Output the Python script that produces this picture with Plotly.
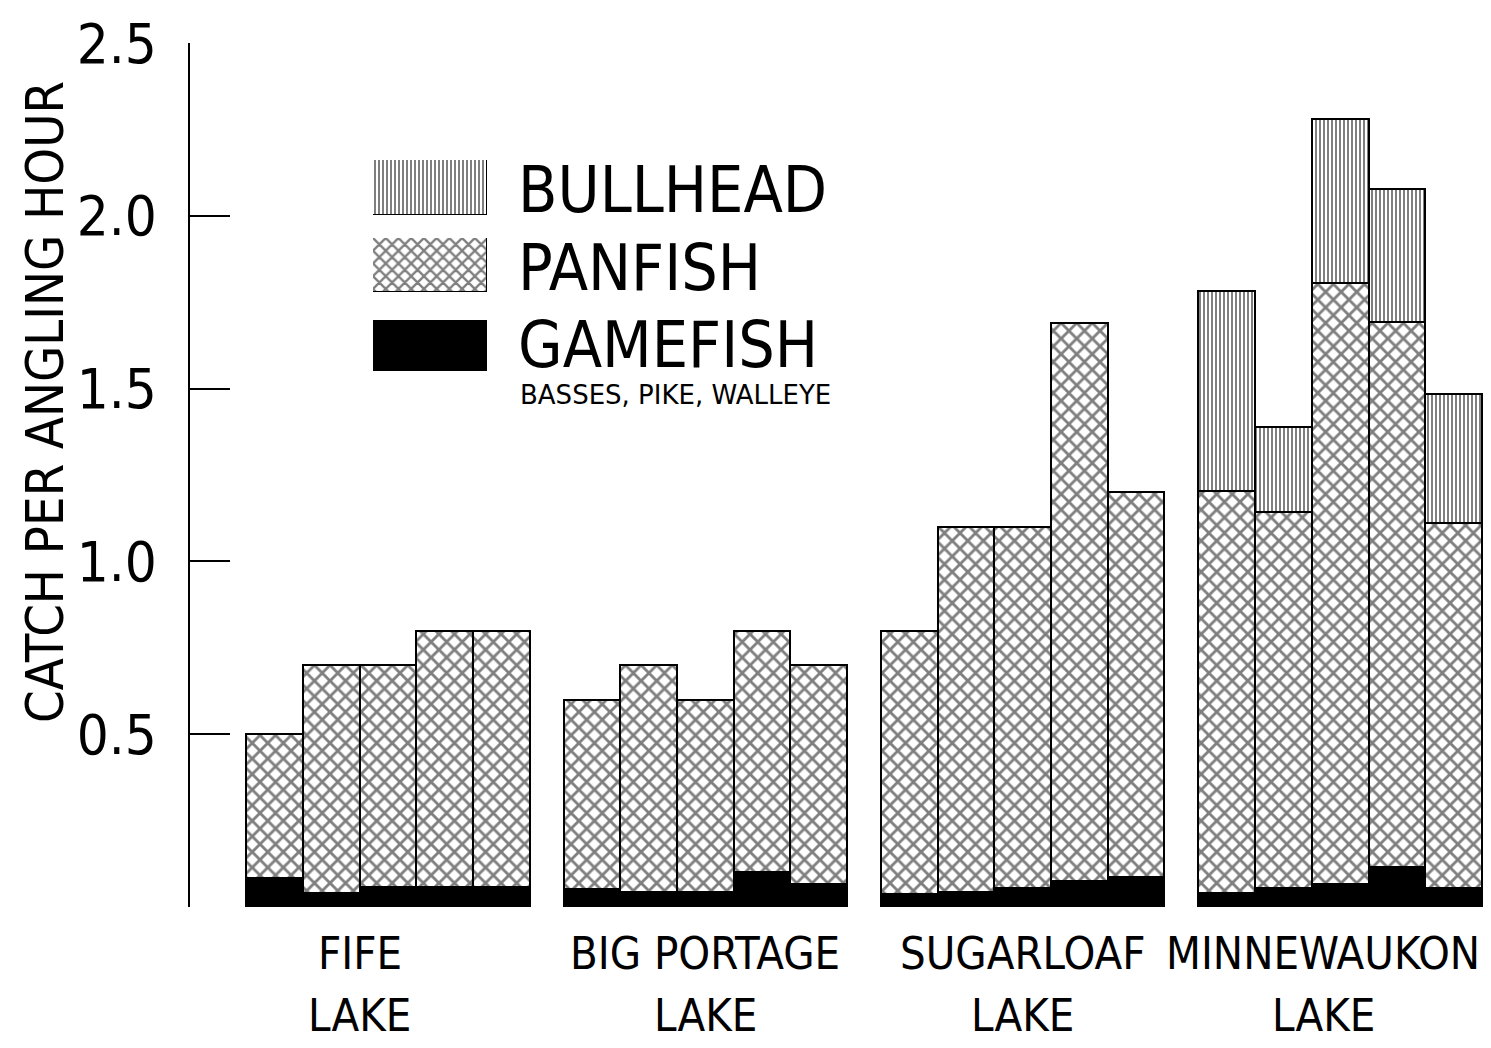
import plotly.graph_objects as go

# ---- data ----
lakes = ["FIFE", "BIG PORTAGE", "SUGARLOAF", "MINNEWAUKON"]
gamefish = [
    [0.084, 0.040, 0.058, 0.058, 0.058],
    [0.052, 0.043, 0.043, 0.100, 0.067],
    [0.038, 0.043, 0.055, 0.075, 0.087],
    [0.040, 0.055, 0.067, 0.116, 0.055],
]
panfish = [
    [0.416, 0.660, 0.642, 0.742, 0.742],
    [0.548, 0.657, 0.557, 0.700, 0.633],
    [0.762, 1.057, 1.045, 1.615, 1.113],
    [1.164, 1.088, 1.739, 1.577, 1.056],
]
bullhead = [
    [0, 0, 0, 0, 0],
    [0, 0, 0, 0, 0],
    [0, 0, 0, 0, 0],
    [0.578, 0.246, 0.474, 0.385, 0.373],
]
y_ticks = [0, 0.5, 1.0, 1.5, 2.0, 2.5]
y_ticktext = ["", "0.5", "1.0", "1.5", "2.0", "2.5"]

FONT = "DejaVu Sans Condensed, Liberation Sans Narrow, sans-serif"
GROUP_STEP = 5.6

xs, g_v, p_v, b_v = [], [], [], []
for gi in range(len(lakes)):
    for j in range(5):
        xs.append(gi * GROUP_STEP + j)
        g_v.append(gamefish[gi][j])
        p_v.append(panfish[gi][j])
        b_v.append(bullhead[gi][j])

PAN_PAT = dict(shape="x", size=11, solidity=0.45, fgcolor="black", bgcolor="white")
BULL_PAT = dict(shape="|", size=4, solidity=0.5, fgcolor="black", bgcolor="white")

line = dict(color="black", width=2.5)
fig = go.Figure()
fig.add_trace(go.Bar(x=xs, y=g_v, width=1, marker=dict(color="black", line=line), name="GAMEFISH"))
fig.add_trace(go.Bar(x=xs, y=p_v, width=1, marker=dict(color="white", line=line, pattern=PAN_PAT),
                     name="PANFISH"))
fig.add_trace(go.Bar(x=[x for x, b in zip(xs, b_v) if b > 0], y=[b for b in b_v if b > 0], width=1,
                     marker=dict(color="white", line=line, pattern=BULL_PAT), name="BULLHEAD"))

# ---- geometry helpers (page pixels -> paper coords) ----
W = 1491 - 190
H = 907 - 43
def px(p):
    return (p - 190) / W
def py(p):
    return (907 - p) / H

# ---- legend keys (each on its own small axis pair) ----
keys = [
    ("BULLHEAD", 160, 215, dict(color="white", line=dict(color="black", width=1.5), pattern=BULL_PAT)),
    ("PANFISH", 238, 292, dict(color="white", line=dict(color="black", width=1.5),
                             pattern=dict(PAN_PAT, size=9))),
    ("GAMEFISH", 320, 371, dict(color="black", line=dict(color="black", width=1.5))),
]
legend_vals = [1, 1, 1]
for k, (name, top, bot, mk) in enumerate(keys):
    n = k + 2
    fig.add_trace(go.Bar(x=[0], y=[legend_vals[k]], width=1, marker=mk, xaxis=f"x{n}", yaxis=f"y{n}",
                         showlegend=False, hoverinfo="skip"))
    fig.layout[f"xaxis{n}"] = dict(domain=[px(373), px(487)], range=[-0.5, 0.5], visible=False,
                                   anchor=f"y{n}", fixedrange=True)
    fig.layout[f"yaxis{n}"] = dict(domain=[py(bot), py(top)], range=[0, 1], visible=False,
                                   anchor=f"x{n}", fixedrange=True)

# page has an 8px body margin: build the figure 8px smaller and shifted
fig.update_layout(
    width=1483, height=1040,
    margin=dict(l=182, r=0, t=35, b=141),
    plot_bgcolor="white", paper_bgcolor="white",
    barmode="stack", bargap=0, showlegend=False,
    font=dict(family=FONT, color="black"),
    xaxis=dict(range=[-1.49, 21.46], showticklabels=False, showgrid=False, zeroline=False,
               showline=False, ticks=""),
    yaxis=dict(range=[0, 2.5], tickvals=y_ticks, ticktext=y_ticktext, ticks="inside", ticklen=40,
               tickwidth=1.5, tickcolor="black", showline=True, linewidth=2, linecolor="black",
               showgrid=False, zeroline=False, tickfont=dict(size=56, family=FONT), ticklabelstandoff=20),
)

annotations = []
# y-axis title
annotations.append(dict(text="CATCH PER ANGLING HOUR", x=px(45), y=py(402), xref="paper", yref="paper",
                        textangle=-90, showarrow=False, font=dict(size=52, family=FONT),
                        xanchor="center", yanchor="middle"))
# legend texts
for name, yc in [("BULLHEAD", 190), ("PANFISH", 268), ("GAMEFISH", 345)]:
    annotations.append(dict(text=name, x=px(516), y=py(yc), xref="paper", yref="paper", showarrow=False,
                            xanchor="left", yanchor="middle", font=dict(size=64, family=FONT)))
annotations.append(dict(text="BASSES, PIKE, WALLEYE", x=px(518), y=py(395), xref="paper", yref="paper",
                        showarrow=False, xanchor="left", yanchor="middle",
                        font=dict(size=26, family="DejaVu Sans, sans-serif")))
# group labels
label_x = [1.5, 7.6, 13.2, 18.5]
for lake, lx in zip(lakes, label_x):
    annotations.append(dict(text=lake, x=lx, y=py(953), xref="x", yref="paper", showarrow=False,
                            xanchor="center", yanchor="middle", font=dict(size=45, family=FONT)))
    annotations.append(dict(text="LAKE", x=lx, y=py(1015), xref="x", yref="paper", showarrow=False,
                            xanchor="center", yanchor="middle", font=dict(size=45, family=FONT)))
fig.update_layout(annotations=annotations)

fig.write_html("out.html")
